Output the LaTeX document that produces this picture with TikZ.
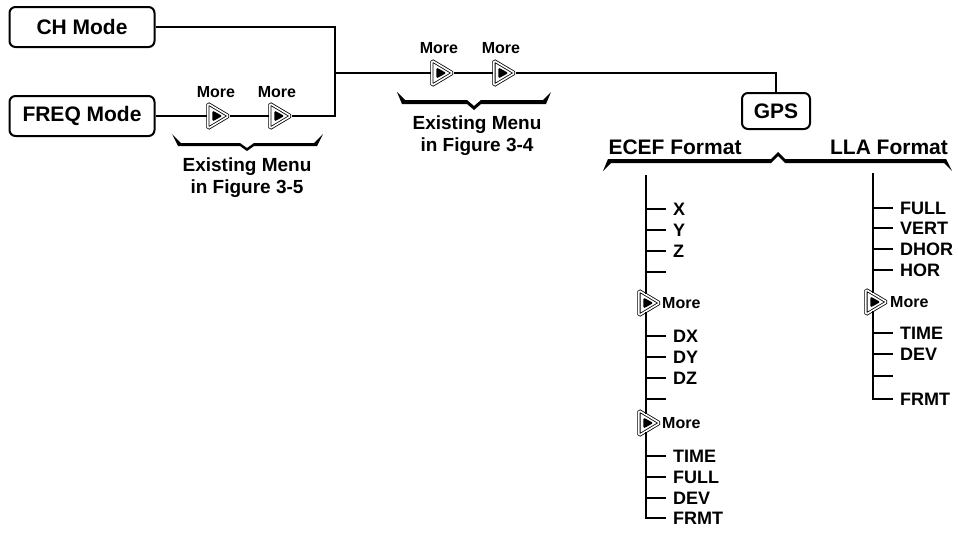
\documentclass[tikz,border=0pt]{standalone}
\usepackage{fontspec}
\setmainfont{Liberation Sans}
\usetikzlibrary{positioning, shapes.geometric, calc}

\begin{document}
\begin{tikzpicture}[
    x=1pt, y=-1pt,
    menubox/.style={rectangle, rounded corners=6pt, draw=black, line width=2pt, fill=white, minimum height=40pt, align=center, font=\fontsize{21}{24}\selectfont\bfseries},
    moretxt/.style={inner sep=0pt, font=\fontsize{16}{18}\selectfont\bfseries},
    fmttxt/.style={inner sep=0pt, font=\fontsize{21}{24}\selectfont\bfseries},
    notetxt/.style={inner sep=0pt, align=center, font=\fontsize{19}{22}\selectfont\bfseries},
    item/.style={anchor=west, inner xsep=7pt, inner ysep=0pt, text height=13pt, text depth=0pt, font=\fontsize{18}{20}\selectfont\bfseries},
    morebtn/.style={isosceles triangle, isosceles triangle stretches, minimum width=25pt, minimum height=21pt, inner sep=0pt, draw=black, double=white, double distance=1.6pt, line width=0.8pt, rounded corners=1.5pt, fill=white,
        path picture={\fill[black] ($(path picture bounding box.center)+(-6,-5.5)$) -- ++(10,5.5) -- ++(-10,5.5) -- cycle;}},
    wire/.style={line width=1.1pt, draw=black},
    bracket/.style={fill=black}
]
\useasboundingbox (0,0) rectangle (958,533);

% Mode boxes
\node[menubox, minimum width=145pt] (ch) at (82,27) {CH Mode};
\node[menubox, minimum width=145pt] (freq) at (82,116) {FREQ Mode};
\node[menubox, minimum width=68pt, minimum height=36pt] (gps) at (776,111) {GPS};

% More buttons on the menu rows
\node[morebtn] (fb1) at (215,116) {};
\node[morebtn] (fb2) at (277,116) {};
\node[moretxt] (fm1) at (216,92) {More};
\node[moretxt] (fm2) at (277,92) {More};
\node[morebtn] (mb1) at (439,73) {};
\node[morebtn] (mb2) at (501,73) {};
\node[moretxt] (mm1) at (439,48) {More};
\node[moretxt] (mm2) at (501,48) {More};

% Row joints
\coordinate (c1) at (335,27);
\coordinate (c2) at (335,116);
\coordinate (cm) at (335,73);
\coordinate (cg) at (776,73);
\draw[wire] (ch) -- (c1) -- (c2) -- (fb2) -- (fb1) -- (freq);
\draw[wire] (cm) -- (mb1) -- (mb2) -- (cg) -- (gps);

% Braces
\fill[bracket] (172,134) -- (181,143) -- (240,143) -- (247,148) -- (254,143) -- (314,143) -- (323,134) -- (317,146) -- (254,146) -- (247,151) -- (240,146) -- (178,146) -- cycle;
\fill[bracket] (397,92) -- (405,100) -- (467,100) -- (474,106) -- (481,100) -- (543,100) -- (551,92) -- (546,104) -- (481,104) -- (474,110) -- (467,104) -- (402,104) -- cycle;
\fill[bracket] (603,171) -- (608,159) -- (771,159) -- (778,152) -- (785,159) -- (946,159) -- (952,171) -- (944,163) -- (785,163) -- (778,156) -- (771,163) -- (611,163) -- cycle;
\node[notetxt] (n35) at (247,178) {Existing Menu\\in Figure 3-5};
\node[notetxt] (n34) at (477,136) {Existing Menu\\in Figure 3-4};
\node[fmttxt] (ecef) at (675,147) {ECEF Format};
\node[fmttxt] (lla) at (889,147) {LLA Format};

% ECEF column
\foreach \n/\y/\t in {1/209/X, 2/230/Y, 3/251/Z, 4/272/{}, 5/336/DX, 6/357/DY, 7/378/DZ, 8/399/{}, 9/456/TIME, 10/477/FULL, 11/498/DEV, 12/518/FRMT}
    \node[item] (e\n) at (666,\y) {\t};
\coordinate (etop) at (646,175);
\node[morebtn] (eb1) at (646,303) {};
\node[morebtn] (eb2) at (646,423) {};
\node[moretxt, anchor=west] (ebm1) at (662,303) {More};
\node[moretxt, anchor=west] (ebm2) at (662,423) {More};
\draw[wire] (etop) -- (eb1) -- (eb2) -- (etop |- e12.west) -- (e12);
\foreach \n in {1,...,11}
    \draw[wire] (etop |- e\n.west) -- (e\n);

% LLA column
\foreach \n/\y/\t in {1/208/FULL, 2/228/VERT, 3/249/DHOR, 4/270/HOR, 5/333/TIME, 6/354/DEV, 7/376/{}, 8/399/FRMT}
    \node[item] (l\n) at (893,\y) {\t};
\coordinate (ltop) at (873,173);
\node[morebtn] (lb1) at (873,302) {};
\node[moretxt, anchor=west] (lbm1) at (890,302) {More};
\draw[wire] (ltop) -- (lb1) -- (ltop |- l8.west) -- (l8);
\foreach \n in {1,...,7}
    \draw[wire] (ltop |- l\n.west) -- (l\n);

\end{tikzpicture}
\end{document}
